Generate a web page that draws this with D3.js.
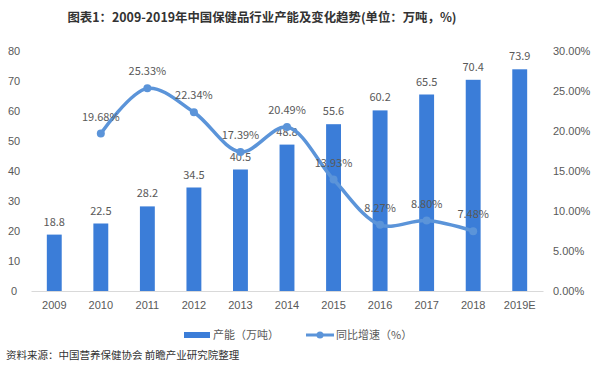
<!DOCTYPE html>
<html><head><meta charset="utf-8">
<script src="https://cdn.jsdelivr.net/npm/d3@7/dist/d3.min.js"></script>
<style>body{margin:0;background:#fff;}svg{display:block;font-family:"Noto Sans CJK SC","Noto Sans",sans-serif;}</style>
</head><body><svg id="c" width="600" height="382"></svg>
<script>
const categories = ["2009","2010","2011","2012","2013","2014","2015","2016","2017","2018","2019E"];
const capacity = [18.8,22.5,28.2,34.5,40.5,48.8,55.6,60.2,65.5,70.4,73.9];
const growthYears = ["2010","2011","2012","2013","2014","2015","2016","2017","2018"];
const growth = [19.68,25.33,22.34,17.39,20.49,13.93,8.27,8.80,7.48];
const leftTicks = [0,10,20,30,40,50,60,70,80];
const rightTicks = [0,5,10,15,20,25,30];

const svg = d3.select("#c");
const barColor = "#3b7dd8", lineColor = "#5b94d9", textColor = "#595959";
const x = d3.scaleBand().domain(categories).range([31,543]).paddingInner(0.68).paddingOuter(0.34);
const yL = d3.scaleLinear().domain([0,80]).range([291,51]);
const yR = d3.scaleLinear().domain([0,30]).range([291,51]);

svg.append("text").attr("x",262).attr("y",22).attr("text-anchor","middle")
  .attr("font-size",12.4).attr("font-weight","bold").attr("fill","#333")
  .text("图表1：2009-2019年中国保健品行业产能及变化趋势(单位：万吨，%)");

// left axis
const gL = svg.append("g").attr("transform","translate(31,0)")
  .call(d3.axisLeft(yL).tickValues(leftTicks).tickSize(0).tickPadding(6));
gL.select(".domain").remove();
gL.selectAll("text").attr("font-size",11).attr("fill",textColor).attr("text-anchor","middle").attr("x",-17);

const gR = svg.append("g").attr("transform","translate(543,0)")
  .call(d3.axisRight(yR).tickValues(rightTicks).tickSize(0).tickPadding(10).tickFormat(d=>d.toFixed(2)+"%"));
gR.select(".domain").remove();
gR.selectAll("text").attr("font-size",11).attr("fill",textColor);

const gX = svg.append("g").attr("transform","translate(0,291)")
  .call(d3.axisBottom(x).tickSize(0).tickPadding(10));
gX.select(".domain").attr("stroke","#d9d9d9");
gX.selectAll("text").attr("font-size",11).attr("fill",textColor);

// bars
svg.selectAll(".bar").data(capacity).join("rect")
  .attr("x",(d,i)=>x(categories[i])).attr("width",x.bandwidth())
  .attr("y",d=>yL(d)).attr("height",d=>yL(0)-yL(d)).attr("fill",barColor);
svg.selectAll(".bl").data(capacity).join("text")
  .attr("x",(d,i)=>x(categories[i])+x.bandwidth()/2).attr("y",d=>yL(d)-9)
  .attr("text-anchor","middle").attr("font-size",11).attr("fill",textColor).text(d=>d);

// line
const cx = c => x(c)+x.bandwidth()/2;
const pts = growth.map((v,i)=>[cx(growthYears[i]), yR(v)]);
svg.append("path").datum(pts).attr("d",d3.line().curve(d3.curveCatmullRom.alpha(0.5)))
  .attr("fill","none").attr("stroke",lineColor).attr("stroke-width",3.5).attr("stroke-linecap","round");
svg.selectAll(".pt").data(pts).join("circle").attr("cx",d=>d[0]).attr("cy",d=>d[1]).attr("r",4).attr("fill",lineColor);
svg.selectAll(".ll").data(growth).join("text")
  .attr("x",(d,i)=>pts[i][0]).attr("y",(d,i)=>pts[i][1]-13)
  .attr("text-anchor","middle").attr("font-size",11).attr("fill",textColor).text(d=>d.toFixed(2)+"%");

// legend
svg.append("rect").attr("x",184).attr("y",332).attr("width",26).attr("height",6).attr("fill",barColor);
svg.append("text").attr("x",213).attr("y",339).attr("font-size",11).attr("fill",textColor).text("产能（万吨）");
svg.append("line").attr("x1",306).attr("x2",334).attr("y1",335).attr("y2",335).attr("stroke",lineColor).attr("stroke-width",3);
svg.append("circle").attr("cx",320).attr("cy",335).attr("r",3.5).attr("fill",lineColor);
svg.append("text").attr("x",336).attr("y",339).attr("font-size",11).attr("fill",textColor).text("同比增速（%）");

svg.append("text").attr("x",6).attr("y",359).attr("font-size",10.5).attr("fill","#333").text("资料来源：中国营养保健协会 前瞻产业研究院整理");
</script></body></html>
